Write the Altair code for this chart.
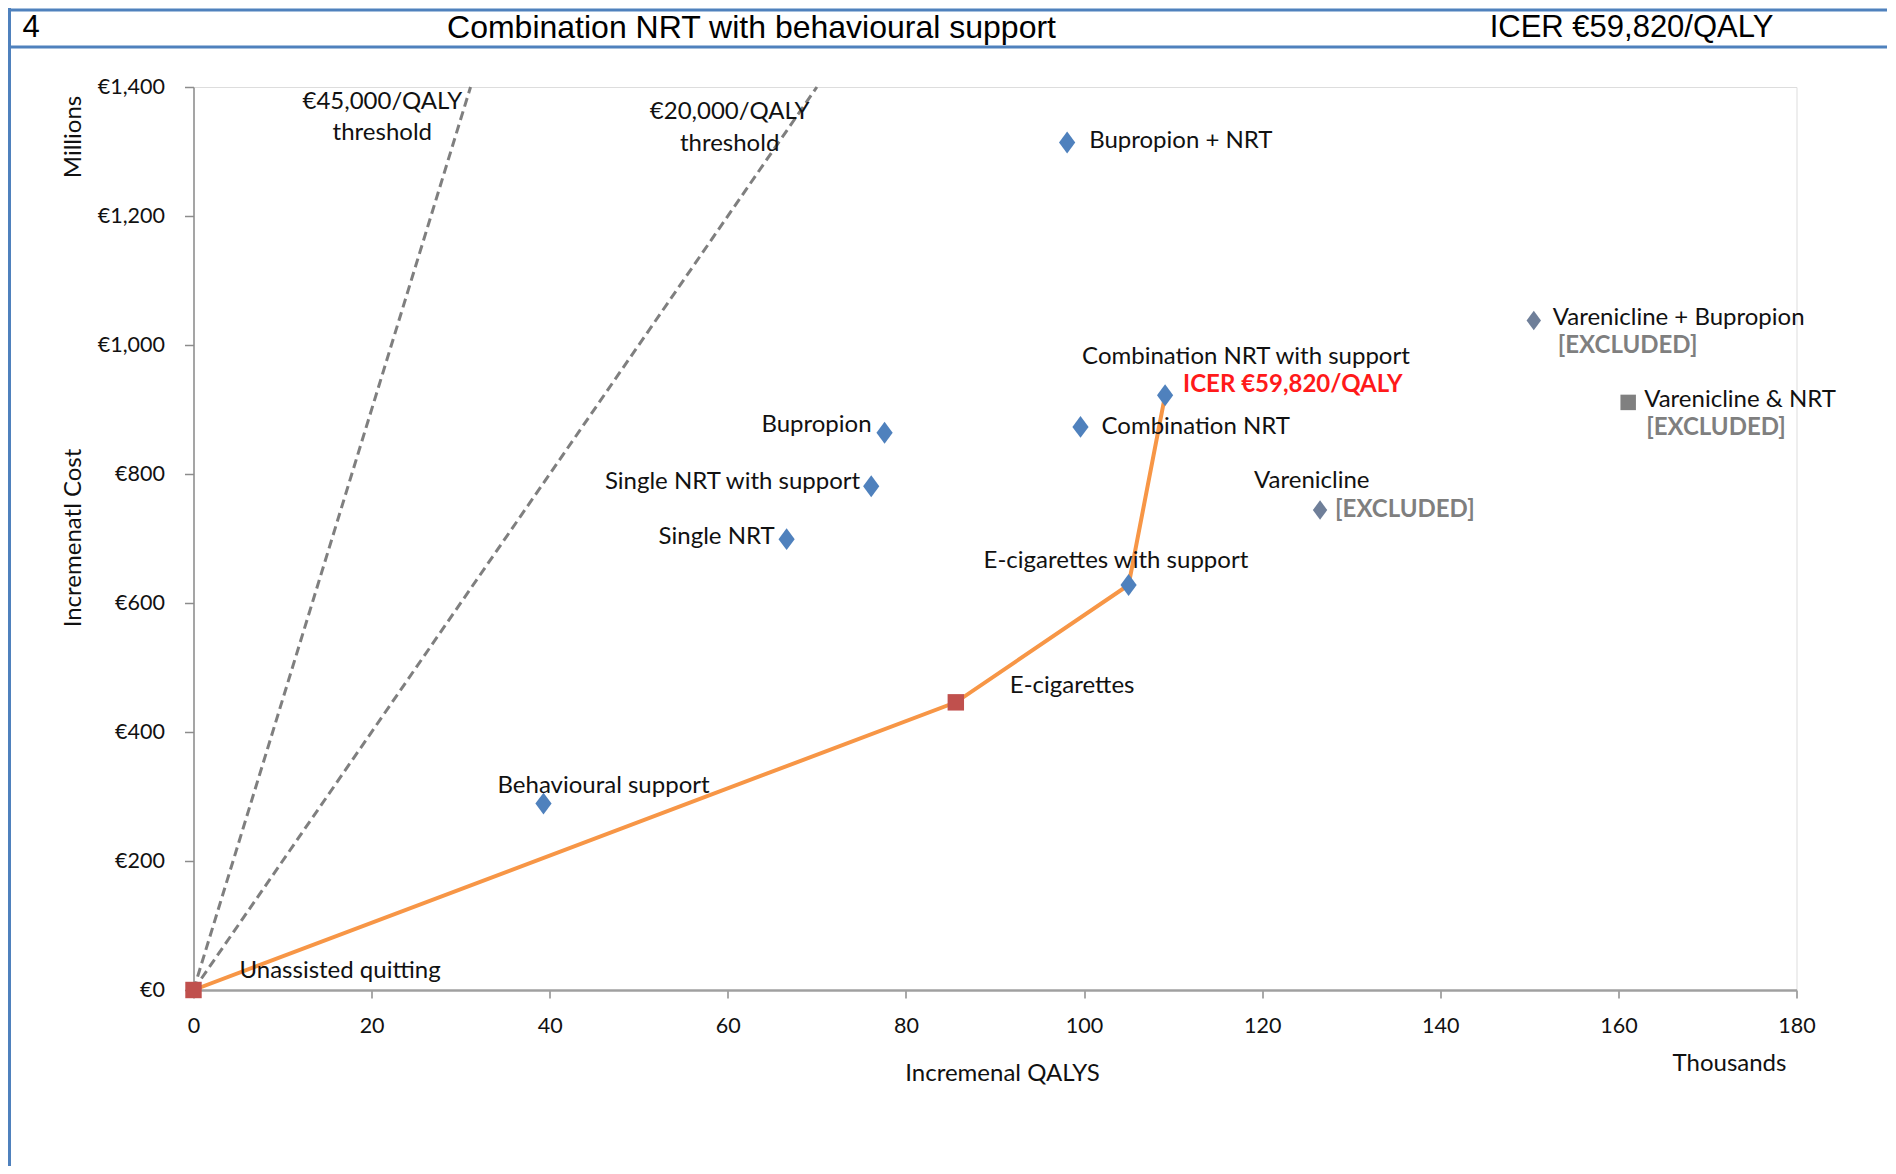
import altair as alt
import pandas as pd

# ---------------- data ----------------
names = ["Unassisted quitting", "Behavioural support", "E-cigarettes", "E-cigarettes with support",
         "Combination NRT with support", "Combination NRT", "Bupropion", "Single NRT with support",
         "Single NRT", "Bupropion + NRT", "Varenicline", "Varenicline + Bupropion", "Varenicline & NRT"]
qalys_k = [0, 39.3, 85.6, 105.0, 109.1, 99.6, 77.6, 76.1, 66.6, 98.1, 126.5, 150.5, 161.1]
cost_m = [0, 289, 446, 628, 922, 873, 864, 781, 699, 1314, 744, 1038, 911]
kind = ["frontier", "option", "frontier", "option", "option", "option", "option", "option",
        "option", "option", "excluded", "excluded", "excluded_sq"]
frontier_order = ["Unassisted quitting", "E-cigarettes", "E-cigarettes with support", "Combination NRT with support"]

thresholds = [45000, 20000]
threshold_label = ["€45,000/QALY", "€20,000/QALY"]
threshold_label_x = [21.2, 60.2]
y_max = 1400

header_num = "4"
header_title = "Combination NRT with behavioural support"
header_icer = "ICER €59,820/QALY"

df = pd.DataFrame({"name": names, "q": qalys_k, "c": cost_m, "kind": kind})
fr = df.set_index("name").loc[frontier_order].reset_index()
fr["order"] = range(len(fr))

thr_rows = []
for i, t in enumerate(thresholds):
    thr_rows.append({"t": threshold_label[i], "q": 0, "c": 0, "o": 0})
    thr_rows.append({"t": threshold_label[i], "q": y_max / (t / 1000), "c": y_max, "o": 1})
thr = pd.DataFrame(thr_rows)

FONT = "Lato"
LFS = 24
X = alt.X("q:Q", scale=alt.Scale(domain=[0, 180], nice=False),
          axis=alt.Axis(values=list(range(0, 181, 20)), title=None, grid=False, tickSize=8,
                        labelPadding=17, labelFontSize=21.5, labelFont=FONT, labelColor="#111",
                        labelFlush=False,
                        domainColor="#a0a0a0", domainWidth=2.5, tickColor="#8c8c8c", tickWidth=1.5))
Y = alt.Y("c:Q", scale=alt.Scale(domain=[0, 1400], nice=False),
          axis=alt.Axis(values=list(range(0, 1401, 200)), title=None, grid=False, tickSize=9,
                        labelPadding=20, labelFontSize=21.5, labelFont=FONT, labelColor="#111",
                        labelFlush=False,
                        labelExpr='"€" + format(datum.value, ",")',
                        domainColor="#8c8c8c", domainWidth=1.5, tickColor="#8c8c8c", tickWidth=1.5))

base = alt.Chart(df)

thr_lines = alt.Chart(thr).mark_line(color="#7f7f7f", strokeWidth=3, strokeDash=[9, 5]).encode(
    x=X, y=Y, detail="t:N", order="o:Q")

frontier = alt.Chart(fr).mark_line(color="#F79646", strokeWidth=4).encode(
    x="q:Q", y="c:Q", order="order:Q")

diamond = "M0,-1L0.74,0L0,1L-0.74,0Z"
pts_opt = base.transform_filter("datum.kind == 'option'").mark_point(
    shape=diamond, filled=True, size=480, color="#4F81BD", opacity=1).encode(x="q:Q", y="c:Q")
pts_exc = base.transform_filter("datum.kind == 'excluded'").mark_point(
    shape=diamond, filled=True, size=380, color="#6F7F99", opacity=1).encode(x="q:Q", y="c:Q")
pts_exc_sq = base.transform_filter("datum.kind == 'excluded_sq'").mark_point(
    shape="square", filled=True, size=240, color="#808080", opacity=1).encode(x="q:Q", y="c:Q")
pts_fr = base.transform_filter("datum.kind == 'frontier'").mark_point(
    shape="square", filled=True, size=270, color="#C0504D", opacity=1).encode(x="q:Q", y="c:Q")

# label layout (pixel offsets from the point)
layout = {
    "Unassisted quitting": ("left", 46, -19),
    "Behavioural support": ("left", -46, -18),
    "E-cigarettes": ("left", 54, -16),
    "E-cigarettes with support": ("left", -145, -24),
    "Combination NRT with support": ("left", -83, -38),
    "Combination NRT": ("left", 21, 0),
    "Bupropion": ("right", -13, -8),
    "Single NRT with support": ("right", -11, -4),
    "Single NRT": ("right", -12, -2),
    "Bupropion + NRT": ("left", 22, -1),
    "Varenicline": ("left", -66, -29),
    "Varenicline + Bupropion": ("left", 19, -2),
    "Varenicline & NRT": ("left", 16, -2),
}
extra = [
    ("Combination NRT with support", "ICER €59,820/QALY", 18, -10, "#FF1A1A"),
    ("Varenicline", "[EXCLUDED]", 15, 0, "#7f7f7f"),
    ("Varenicline + Bupropion", "[EXCLUDED]", 24, 26, "#7f7f7f"),
    ("Varenicline & NRT", "[EXCLUDED]", 18, 26, "#7f7f7f"),
]

labels = []
for n, (al, dx, dy) in layout.items():
    labels.append(base.transform_filter(alt.datum.name == n).mark_text(
        align=al, baseline="middle", dx=dx, dy=dy, fontSize=LFS, font=FONT, color="#111").encode(
        x="q:Q", y="c:Q", text="name:N"))
for n, txt, dx, dy, col in extra:
    labels.append(base.transform_filter(alt.datum.name == n).mark_text(
        align="left", baseline="middle", dx=dx, dy=dy, fontSize=LFS, font=FONT, fontWeight="bold",
        color=col).encode(x="q:Q", y="c:Q", text=alt.value(txt)))

thr_txt = pd.DataFrame({"q": threshold_label_x + threshold_label_x,
                        "c": [1377, 1361, 1329, 1312],
                        "t": threshold_label + ["threshold", "threshold"]})
thr_text = alt.Chart(thr_txt).mark_text(fontSize=LFS, font=FONT, color="#111", baseline="middle").encode(
    x="q:Q", y="c:Q", text="t:N")

one = pd.DataFrame({"a": [0]})
ann = alt.Chart(one)
BLUE = "#4F81BD"
frame = [
    ann.mark_rule(color=BLUE, strokeWidth=3).encode(x=alt.value(-186), x2=alt.value(1700), y=alt.value(-77)),
    ann.mark_rule(color=BLUE, strokeWidth=3).encode(x=alt.value(-186), x2=alt.value(1700), y=alt.value(-40)),
    ann.mark_rule(color=BLUE, strokeWidth=3).encode(x=alt.value(-184), y=alt.value(-79), y2=alt.value(1100)),
]
HF = "Liberation Sans"
hdr = [
    ann.mark_text(align="left", baseline="middle", fontSize=31, font=HF, color="#000").encode(
        x=alt.value(-171), y=alt.value(-59), text=alt.value(header_num)),
    ann.mark_text(align="center", baseline="middle", fontSize=32, font=HF, color="#000").encode(
        x=alt.value(558), y=alt.value(-59), text=alt.value(header_title)),
    ann.mark_text(align="center", baseline="middle", fontSize=31, font=HF, color="#000").encode(
        x=alt.value(1438), y=alt.value(-59), text=alt.value(header_icer)),
]
titles = [
    ann.mark_text(angle=270, align="center", baseline="middle", fontSize=LFS, font=FONT, color="#111").encode(
        x=alt.value(-120), y=alt.value(50), text=alt.value("Millions")),
    ann.mark_text(angle=270, align="center", baseline="middle", fontSize=LFS, font=FONT, color="#111").encode(
        x=alt.value(-120), y=alt.value(451), text=alt.value("Incremenatl Cost")),
    ann.mark_text(align="center", baseline="middle", fontSize=LFS, font=FONT, color="#111").encode(
        x=alt.value(809), y=alt.value(987), text=alt.value("Incremenal QALYS")),
    ann.mark_text(align="center", baseline="middle", fontSize=LFS, font=FONT, color="#111").encode(
        x=alt.value(1536), y=alt.value(977), text=alt.value("Thousands")),
]

chart = alt.layer(
    thr_lines, frontier, pts_opt, pts_exc, pts_exc_sq, pts_fr, thr_text, *labels, *frame, *hdr, *titles
).properties(
    width=1603, height=903,
    autosize=alt.AutoSizeParams(type="none"),
    padding={"left": 185.5, "top": 79, "right": 90, "bottom": 176},
).configure_view(stroke=None).configure(background="white")

chart.save("out.html", embed_options={"renderer": "svg", "actions": False})
